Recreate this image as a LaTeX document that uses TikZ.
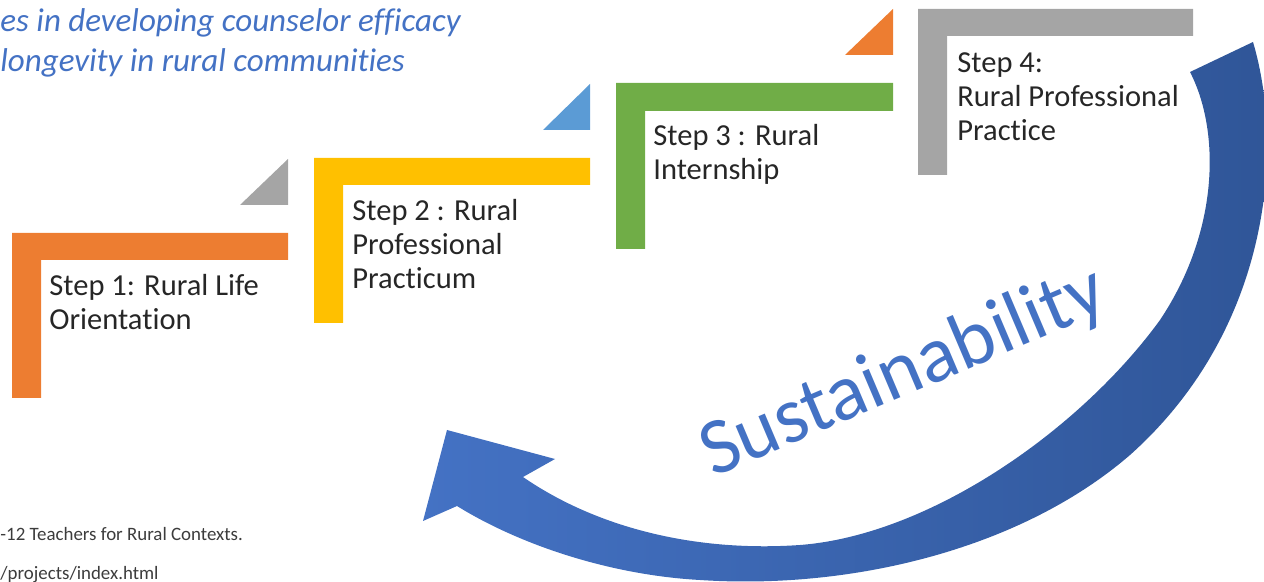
\documentclass[tikz,border=0pt]{standalone}
\usepackage{fontspec}
\setmainfont{Carlito}[Ligatures=NoCommon]
\definecolor{sorange}{HTML}{ED7D31}
\definecolor{syellow}{HTML}{FFC000}
\definecolor{sgreen}{HTML}{70AD47}
\definecolor{sgray}{HTML}{A5A5A5}
\definecolor{sblue}{HTML}{5B9BD5}
\definecolor{arrowlight}{HTML}{4472C4}
\definecolor{arrowdark}{HTML}{2F5597}
\definecolor{titleblue}{HTML}{4472C4}
\definecolor{steptxt}{RGB}{38,38,38}
\definecolor{notetxt}{RGB}{60,60,60}
\begin{document}
\begin{tikzpicture}[x=0.5pt,y=-0.5pt,
  steptext/.style={anchor=base west, inner sep=0pt, align=left, text=steptxt,
    font=\fontsize{15.25pt}{17pt}\selectfont},
  titletext/.style={anchor=base west, inner sep=0pt, align=left, text=titleblue,
    font=\fontsize{16.5pt}{20pt}\selectfont\itshape},
  notetext/.style={anchor=base west, inner sep=0pt, text=notetxt,
    font=\fontsize{9.45pt}{11pt}\selectfont},
  sustext/.style={inner sep=0pt, text=arrowlight, font=\fontsize{40pt}{42pt}\selectfont}]
\useasboundingbox (0,0) rectangle (1264,582);
\clip (0,0) rectangle (1264,582);

% title
\node[titletext] (title1) at (0,32) {es in developing counselor efficacy};
\node[titletext] (title2) at (0,72) {longevity in rural communities};

% bottom notes
\node[notetext] (note1) at (0,540) {-12 Teachers for Rural Contexts.};
\node[notetext] (note2) at (0,580) {/projects/index.html};

% step 1
\fill[sorange] (12,233) -- (288,233) -- (288,260) -- (41,260) -- (41,398) -- (12,398) -- cycle;
\fill[sgray] (240,205) -- (288,205) -- (288,159) -- cycle;
\node[steptext] (s1) at (49,330) {Step 1: Rural Life\\Orientation};

% step 2
\fill[syellow] (314,158) -- (590,158) -- (590,185) -- (343,185) -- (343,323) -- (314,323) -- cycle;
\fill[sblue] (543,130) -- (590,130) -- (590,84) -- cycle;
\node[steptext] (s2) at (352,289) {Step 2 : Rural\\Professional\\Practicum};

% step 3
\fill[sgreen] (616,83) -- (893,83) -- (893,111) -- (645,111) -- (645,249) -- (616,249) -- cycle;
\fill[sorange] (845,55) -- (893,55) -- (893,9) -- cycle;
\node[steptext] (s3) at (653,180) {Step 3 : Rural\\Internship};

% step 4
\fill[sgray] (918,9) -- (1193,9) -- (1193,36) -- (947,36) -- (947,175) -- (918,175) -- cycle;
\node[steptext] (s4) at (957,141) {Step 4:\\Rural Professional\\Practice};

% curved arrow
\shade[left color=arrowlight, right color=arrowdark]
  (1190,72) -- (1253,42)
  .. controls (1285,150) and (1270,330) .. (1130,455)
  .. controls (1020,550) and (850,590) .. (700,580)
  .. controls (610,575) and (520,545) .. (457,506)
  -- (423,521) -- (447,430) -- (555,459) -- (523,477)
  .. controls (600,530) and (700,552) .. (800,545)
  .. controls (930,535) and (1080,430) .. (1160,320)
  .. controls (1220,230) and (1220,130) .. (1190,72) -- cycle;

\node[sustext, rotate=23, anchor=base] (sus) at (912,393) {Sustainability};
\end{tikzpicture}
\end{document}
